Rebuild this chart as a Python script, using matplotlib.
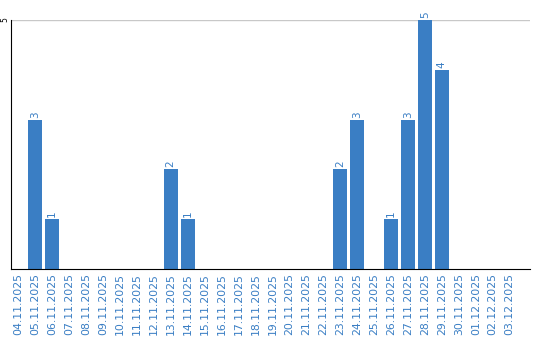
import numpy as np
from matplotlib import pyplot as plt

dates = [
    "04.11.2025", "05.11.2025", "06.11.2025", "07.11.2025", "08.11.2025",
    "09.11.2025", "10.11.2025", "11.11.2025", "12.11.2025", "13.11.2025",
    "14.11.2025", "15.11.2025", "16.11.2025", "17.11.2025", "18.11.2025",
    "19.11.2025", "20.11.2025", "21.11.2025", "22.11.2025", "23.11.2025",
    "24.11.2025", "25.11.2025", "26.11.2025", "27.11.2025", "28.11.2025",
    "29.11.2025", "30.11.2025", "01.12.2025", "02.12.2025", "03.12.2025",
]
counts = [0, 3, 1, 0, 0, 0, 0, 0, 0, 2,
          1, 0, 0, 0, 0, 0, 0, 0, 0, 2,
          3, 0, 1, 3, 5, 4, 0, 0, 0, 0]

blue = "#3a7ec4"

fig = plt.figure(figsize=(5.4, 3.4), dpi=100)
ax = fig.add_axes([10.5 / 540, 71 / 340, 519.5 / 540, 249 / 340])

x = np.arange(len(dates))
ax.bar(x, counts, width=0.82, color=blue, zorder=2)
for xi, c in zip(x, counts):
    if c > 0:
        ax.text(xi, c + 0.04, str(c), rotation=90, ha="center", va="bottom",
                color=blue, fontsize=7.5)

ax.set_xlim(-0.45, 30.2)
ax.set_ylim(0, 5)
ax.set_yticks([5])
ax.set_yticklabels(["5"], rotation=90, va="center", fontsize=5.5)
ax.yaxis.grid(True, color="#c8c8c8", linewidth=1, zorder=0)
ax.set_xticks(x)
ax.set_xticklabels(dates, rotation=90, color=blue, fontsize=7.8)
ax.tick_params(length=0, pad=3)
ax.tick_params(axis="y", pad=1)
for s in ["top", "right"]:
    ax.spines[s].set_visible(False)
ax.spines["left"].set_color("black")
ax.spines["bottom"].set_color("black")

fig.savefig("out.png")
